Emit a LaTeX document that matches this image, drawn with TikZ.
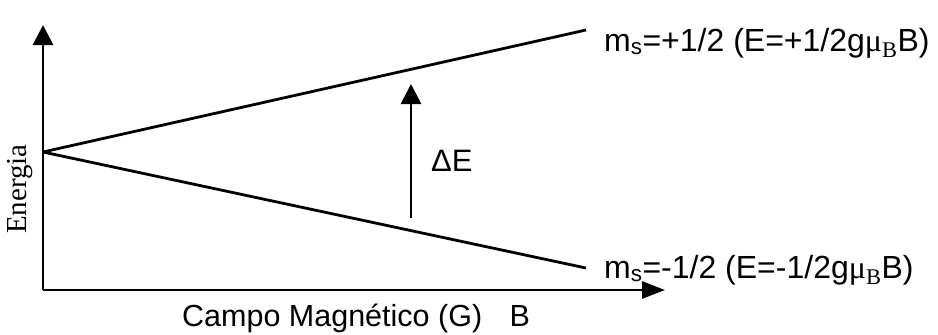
\documentclass[tikz,border=0pt]{standalone}
\usepackage{fontspec}
\setmainfont{Liberation Sans}
\newfontfamily\serifft{Liberation Serif}
\usetikzlibrary{arrows.meta}
\tikzset{
  axis/.style={line width=2.8pt},
  level/.style={line width=2.8pt},
  lbl/.style={inner sep=0pt, font=\fontsize{32}{34}\selectfont},
}
\begin{document}
\begin{tikzpicture}[x=1pt,y=-1pt]
\useasboundingbox (0,0) rectangle (938,335);
\coordinate (O) at (43,290);
\coordinate (Ytip) at (43,25);
\coordinate (Xtip) at (665,290);
\coordinate (Z) at (43,152);
\coordinate (Up) at (586,30);
\coordinate (Lo) at (586,268);
\coordinate (Ebot) at (411,218);
\coordinate (Etop) at (411,84);
\draw[axis,-{Triangle[length=20pt,width=20pt]}] (O) -- (Ytip);
\draw[axis,-{Triangle[length=23pt,width=17pt]}] (O) -- (Xtip);
\draw[level] (Z) -- (Up);
\draw[level] (Z) -- (Lo);
\draw[axis,-{Triangle[length=20pt,width=20pt]}] (Ebot) -- (Etop);
\node[lbl,anchor=west] (up) at (604,43) {m\textsubscript{s}=+1/2 (E=+1/2g{\serifft μ\textsubscript{B}}B)};
\node[lbl,anchor=west] (lo) at (604,270) {m\textsubscript{s}=-1/2 (E=-1/2g{\serifft μ\textsubscript{B}}B)};
\node[lbl,anchor=west,font=\fontsize{31}{33}\selectfont] (dE) at (431,161) {ΔE};
\node[lbl,anchor=west,font=\fontsize{30.5}{32}\selectfont] (xl) at (182,318) {Campo Magnético (G)\hspace{0.9em}B};
\node[inner sep=0pt,rotate=90,font=\serifft\fontsize{29}{31}\selectfont] (yl) at (20,189) {Energia};
\end{tikzpicture}
\end{document}
